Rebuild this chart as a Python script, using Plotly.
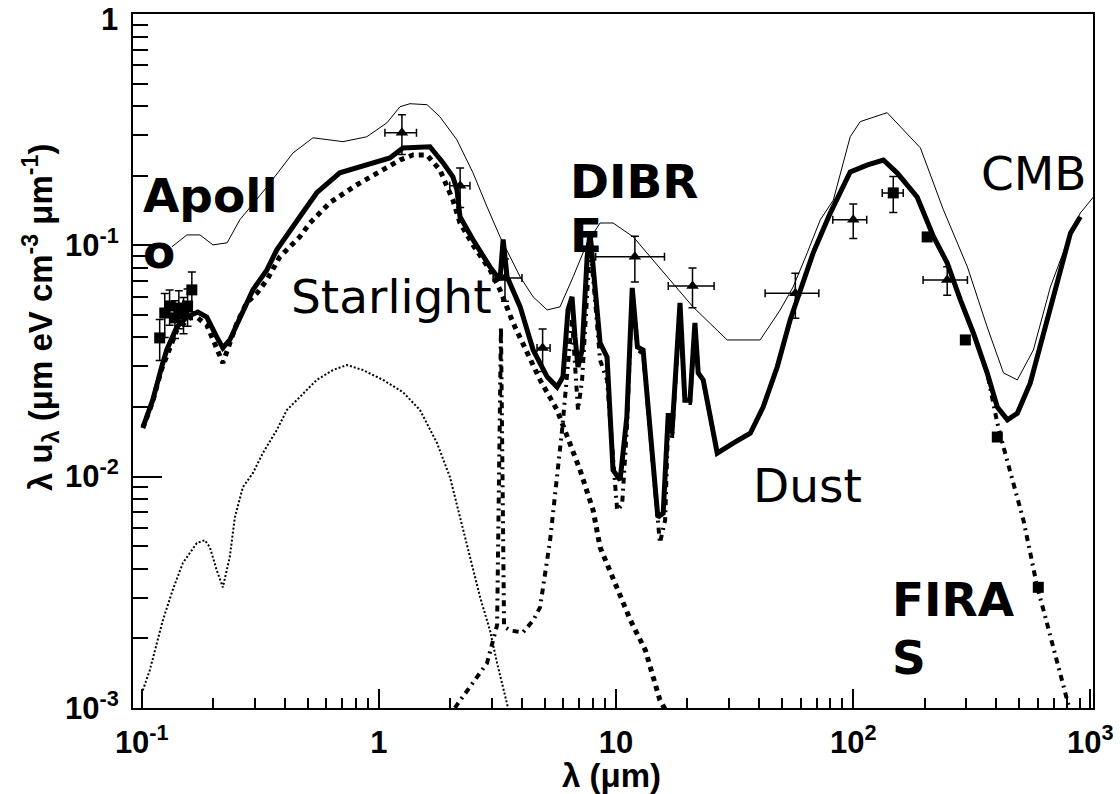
import plotly.graph_objects as go

# ---------------- data (wavelength in micron, lambda*u_lambda) ----------------
upper_wl = [0.134, 0.155, 0.176, 0.1995, 0.229, 0.259, 0.337, 0.434, 0.527, 0.705, 0.889, 1.081, 1.227,
            1.352, 1.596, 1.808, 2.133, 2.493, 2.856, 3.24, 3.94, 4.47, 5.12, 5.80, 6.59, 7.55, 8.56, 9.71,
            11.8, 16.4, 21.1, 29.4, 40.5, 49.2, 55.8, 64.0, 72.6, 82.4, 97.1, 107, 139, 192, 240, 303, 367,
            430, 492, 575, 678, 824, 907, 1030]
upper_val = [0.0986, 0.111, 0.111, 0.1005, 0.1026, 0.129, 0.179, 0.251, 0.292, 0.281, 0.295, 0.339, 0.398,
             0.410, 0.406, 0.360, 0.286, 0.206, 0.147, 0.109, 0.0731, 0.0599, 0.0526, 0.0542, 0.0731, 0.1026,
             0.125, 0.125, 0.109, 0.0731, 0.0542, 0.0390, 0.0390, 0.0526, 0.0661, 0.0929, 0.129, 0.157, 0.295,
             0.343, 0.375, 0.264, 0.1425, 0.0807, 0.0444, 0.0281, 0.0262, 0.0353, 0.0661, 0.113, 0.138, 0.162]

total_wl = [0.1013, 0.1112, 0.1213, 0.1274, 0.1406, 0.1549, 0.1723, 0.188, 0.207, 0.2197, 0.235, 0.259,
            0.294, 0.337, 0.371, 0.464, 0.547, 0.684, 0.889, 1.112, 1.262, 1.641, 1.862, 2.051, 2.133, 2.197,
            2.49, 2.94, 3.24, 3.34, 3.47, 3.94, 4.47, 5.12, 5.64, 5.97, 6.27, 6.52, 6.71, 6.91, 7.19, 7.55,
            7.77, 8.15, 8.56, 9.16, 9.71, 10.4, 11.1, 11.7, 12.3, 13.0, 15.0, 15.8, 16.6, 17.2, 18.6, 19.5,
            20.5, 21.5, 22.2, 23.3, 26.7, 31.2, 36.8, 41.7, 47.8, 54.2, 59.7, 67.8, 80.0, 97.1, 115, 134,
            153, 186, 218, 249, 283, 321, 367, 405, 447, 492, 558, 634, 726, 824, 907]
total_val = [0.01643, 0.0214, 0.0298, 0.0353, 0.0444, 0.0490, 0.0515, 0.0490, 0.0402, 0.0360, 0.0390,
             0.0490, 0.0642, 0.0783, 0.0957, 0.133, 0.169, 0.206, 0.223, 0.239, 0.264, 0.267, 0.228, 0.198,
             0.174, 0.133, 0.106, 0.0807, 0.0709, 0.106, 0.0731, 0.0542, 0.0353, 0.0270, 0.0244, 0.0270,
             0.0526, 0.0599, 0.0402, 0.0298, 0.0353, 0.0892, 0.113, 0.0688, 0.0379, 0.0329, 0.01067,
             0.00966, 0.0181, 0.0655, 0.0364, 0.0353, 0.00668, 0.00695, 0.0188, 0.0154, 0.0564, 0.0214,
             0.0214, 0.0462, 0.0281, 0.0262, 0.01264, 0.01397, 0.0154, 0.0200, 0.0298, 0.0476, 0.0642,
             0.0929, 0.138, 0.208, 0.223, 0.234, 0.206, 0.162, 0.109, 0.0840, 0.0581, 0.0418, 0.0281,
             0.0200, 0.0176, 0.0188, 0.0254, 0.0418, 0.0709, 0.113, 0.133]

star_wl = [0.101, 0.111, 0.121, 0.1406, 0.1595, 0.172, 0.188, 0.209, 0.2197, 0.252, 0.277, 0.306, 0.337,
           0.382, 0.464, 0.512, 0.621, 0.808, 1.04, 1.227, 1.391, 1.596, 1.808, 2.051, 2.197, 2.49, 2.94,
           3.24, 3.68, 4.78, 5.64, 6.21, 7.05, 8.0, 8.56, 11.5, 13.3, 15.3, 16.6]
star_val = [0.0162, 0.021, 0.029, 0.043, 0.0486, 0.0486, 0.0453, 0.0343, 0.0310, 0.0462, 0.0564, 0.0622,
            0.0709, 0.0892, 0.109, 0.125, 0.153, 0.183, 0.212, 0.234, 0.246, 0.246, 0.212, 0.157, 0.125,
            0.1005, 0.0783, 0.0642, 0.0462, 0.0262, 0.0194, 0.01483, 0.01067, 0.00716, 0.00495, 0.00239,
            0.00177, 0.00108, 0.00093]

uv_wl = [0.101, 0.108, 0.1157, 0.1227, 0.135, 0.149, 0.1706, 0.1845, 0.1936, 0.207, 0.2197, 0.235, 0.247,
         0.267, 0.294, 0.324, 0.371, 0.409, 0.464, 0.547, 0.640, 0.733, 0.856, 1.04, 1.262, 1.49, 1.757,
         1.993, 2.197, 2.42, 2.67, 2.94, 3.15, 3.47, 3.57]
uv_val = [0.00119, 0.00145, 0.00190, 0.00239, 0.00323, 0.00423, 0.00516, 0.00531, 0.00495, 0.00394,
          0.00332, 0.00449, 0.00668, 0.00901, 0.01035, 0.01264, 0.0159, 0.0194, 0.0221, 0.0262, 0.0289,
          0.0304, 0.0289, 0.0262, 0.0232, 0.0194, 0.01397, 0.00995, 0.00668, 0.00449, 0.00301, 0.00216,
          0.00156, 0.00104, 0.00092]

dust_wl = [2.09, 2.49, 2.856, 3.03, 3.15, 3.27, 3.37, 3.57, 4.05, 4.47, 4.78, 5.27, 5.64, 5.92, 6.52,
           6.91, 7.19, 7.77, 8.15, 8.56, 9.16, 10.1, 10.6, 11.1, 11.7, 12.3, 13.0, 15.3, 16.1, 16.6, 17.2,
           18.6, 19.5, 20.5, 21.5, 22.2, 23.3, 26.7, 31.2, 36.8, 41.7, 47.8, 54.2, 59.7, 67.8, 80.0, 97.1,
           115, 134, 153, 186, 218, 249, 283, 321, 367, 405, 430, 460, 492, 522, 558, 597, 634, 678, 726,
           770, 808, 850]
dust_val = [0.0010, 0.00128, 0.00156, 0.00196, 0.00228, 0.0444, 0.00225, 0.00216, 0.00212, 0.00239,
            0.00272, 0.00531, 0.00966, 0.0159, 0.0476, 0.0194, 0.0262, 0.1005, 0.0581, 0.0319, 0.0262,
            0.00716, 0.00754, 0.0159, 0.0630, 0.0353, 0.0341, 0.00516, 0.00648, 0.0176, 0.0144, 0.0550,
            0.0208, 0.0208, 0.0453, 0.0281, 0.0262, 0.01264, 0.01397, 0.0154, 0.0200, 0.0298, 0.0476,
            0.0642, 0.0929, 0.138, 0.208, 0.223, 0.234, 0.206, 0.162, 0.109, 0.0840, 0.0581, 0.0418,
            0.0281, 0.01706, 0.01343, 0.01035, 0.00815, 0.00648, 0.00467, 0.00332, 0.00265, 0.00202,
            0.00156, 0.00123, 0.00103, 0.00088]

apollo_wl = [0.119, 0.125, 0.131, 0.138, 0.1433, 0.150, 0.156, 0.1626]
apollo_val = [0.0398, 0.0510, 0.0547, 0.0486, 0.0536, 0.0505, 0.0547, 0.0642]
apollo_err = [0.008, 0.011, 0.0095, 0.009, 0.010, 0.009, 0.010, 0.0126]

dirbe_wl = [1.25, 2.2, 3.4, 4.9, 12, 21, 57, 100, 249]
dirbe_val = [0.307, 0.181, 0.0723, 0.0360, 0.0894, 0.0668, 0.0621, 0.129, 0.0709]
dirbe_xlo = [0.19, 0.21, 0.37, 0.26, 3.8, 4.4, 14.5, 18, 52]
dirbe_xhi = [0.19, 0.22, 0.61, 0.37, 4.0, 4.9, 14.6, 14, 54]
dirbe_yerr = [0.06, 0.035, 0.015, 0.0075, 0.02, 0.013, 0.0137, 0.022, 0.01]

firas_wl = [147.5, 205, 297, 405, 603]
firas_val = [0.1687, 0.1088, 0.0390, 0.01483, 0.00332]
firas_xerr = [15, 0, 0, 0, 0]
firas_yerr = [0.03, 0, 0, 0, 0]

x_tickvals = [0.1, 1, 10, 100, 1000]
x_ticktext = ["10<sup>-1</sup>", "1", "10", "10<sup>2</sup>", "10<sup>3</sup>"]
y_tickvals = [0.001, 0.01, 0.1]
y_ticktext = ["10<sup>-3</sup>", "10<sup>-2</sup>", "10<sup>-1</sup>"]
y_top_label = "1"   # label of the top decade (y = 1), sitting at the frame's top edge

x_title = "λ (μm)"
y_title = "λ u<sub>λ</sub> (μm eV cm<sup>-3</sup> μm<sup>-1</sup>)"

labels = [("Apoll", True), ("o", True), ("Starlight", False), ("DIBR", True), ("E", True),
          ("Dust", False), ("CMB", False), ("FIRA", True), ("S", True)]
# label positions in page pixels (left edge, vertical centre)
label_pos = [(141, 195), (141, 251), (289, 296), (568, 181), (568, 235), (751, 486), (979, 173),
             (890, 599), (890, 657)]

# ---------------- figure ----------------
L, R, T, B = 133, 1093, 14, 708
W, H = 1120, 794

def paper_x(px):
    return (px - L) / (R - L)

def paper_y(py):
    return (B - py) / (B - T)

fig = go.Figure()

fig.add_trace(go.Scatter(x=uv_wl, y=uv_val, mode="lines",
                         line=dict(color="black", width=2, dash="2px,2px")))
fig.add_trace(go.Scatter(x=dust_wl, y=dust_val, mode="lines",
                         line=dict(color="black", width=4, dash="6px,5px,2px,5px")))
fig.add_trace(go.Scatter(x=star_wl, y=star_val, mode="lines",
                         line=dict(color="black", width=5, dash="5px,5px")))
fig.add_trace(go.Scatter(x=total_wl, y=total_val, mode="lines",
                         line=dict(color="black", width=5)))
fig.add_trace(go.Scatter(x=upper_wl, y=upper_val, mode="lines",
                         line=dict(color="black", width=1)))

fig.add_trace(go.Scatter(x=apollo_wl, y=apollo_val, mode="markers",
                         marker=dict(symbol="square", size=11, color="black"),
                         error_y=dict(type="data", array=apollo_err, color="black", thickness=1.5, width=4)))
fig.add_trace(go.Scatter(x=dirbe_wl, y=dirbe_val, mode="markers",
                         marker=dict(symbol="triangle-up", size=11, color="black"),
                         error_x=dict(type="data", array=dirbe_xhi, arrayminus=dirbe_xlo, color="black",
                                      thickness=1.5, width=4),
                         error_y=dict(type="data", array=dirbe_yerr, color="black", thickness=1.5, width=4)))
fig.add_trace(go.Scatter(x=firas_wl, y=firas_val, mode="markers",
                         marker=dict(symbol="square", size=11, color="black"),
                         error_x=dict(type="data", array=firas_xerr, color="black", thickness=1.5, width=4),
                         error_y=dict(type="data", array=firas_yerr, color="black", thickness=1.5, width=4)))

for (txt, bold), (px, py) in zip(labels, label_pos):
    fig.add_annotation(text=txt, xref="paper", yref="paper",
                       x=paper_x(px), y=paper_y(py),
                       xanchor="left", yanchor="middle", showarrow=False,
                       font=dict(family="DejaVu Sans", size=47, color="black",
                                 weight="bold" if bold else "normal"))

tickfont = dict(family="Liberation Sans", size=31, color="black", weight="bold")
titlefont = dict(family="Liberation Sans", size=33, color="black", weight="bold")

# top y label "1" (kept inside the page)
fig.add_annotation(text=y_top_label, xref="paper", yref="paper", x=paper_x(120), y=paper_y(19),
                   xanchor="right", yanchor="middle", showarrow=False, font=tickfont)

# axis titles
fig.add_annotation(text=y_title, xref="paper", yref="paper", x=paper_x(40), y=paper_y(318),
                   xanchor="center", yanchor="middle", textangle=-90, showarrow=False, font=titlefont)
fig.add_annotation(text=x_title, xref="paper", yref="paper", x=paper_x(611), y=paper_y(775),
                   xanchor="center", yanchor="middle", showarrow=False, font=titlefont)

minor_x = [k * 10 ** d for d in range(-1, 3) for k in range(2, 10)]
minor_y = [k * 10 ** d for d in range(-3, 0) for k in range(2, 10)]

fig.update_layout(
    width=W, height=H, margin=dict(l=L, r=W - R, t=T, b=H - B, autoexpand=False),
    paper_bgcolor="white", plot_bgcolor="white", showlegend=False,
    xaxis=dict(type="log", range=[-1.037, 3.011], showline=True, linecolor="black", linewidth=2,
               mirror=True, ticks="inside", ticklen=19, tickwidth=1.5, tickcolor="black",
               tickmode="array", tickvals=x_tickvals, ticktext=x_ticktext, tickfont=tickfont,
               showgrid=False, zeroline=False, ticklabelstandoff=6, ticklabeloverflow="allow",
               automargin=False,
               minor=dict(tickmode="array", tickvals=minor_x, ticks="inside", ticklen=10, tickwidth=1.5,
                          tickcolor="black", showgrid=False)),
    yaxis=dict(type="log", range=[-3.0008, 0.0008], showline=True, linecolor="black", linewidth=2,
               mirror=True, ticks="inside", ticklen=29, tickwidth=1.5, tickcolor="black",
               tickmode="array", tickvals=y_tickvals, ticktext=y_ticktext, tickfont=tickfont,
               showgrid=False, zeroline=False, ticklabelstandoff=6, ticklabeloverflow="allow",
               automargin=False,
               minor=dict(tickmode="array", tickvals=minor_y, ticks="inside", ticklen=15, tickwidth=1.5,
                          tickcolor="black", showgrid=False)),
)

fig.write_html("out.html")
